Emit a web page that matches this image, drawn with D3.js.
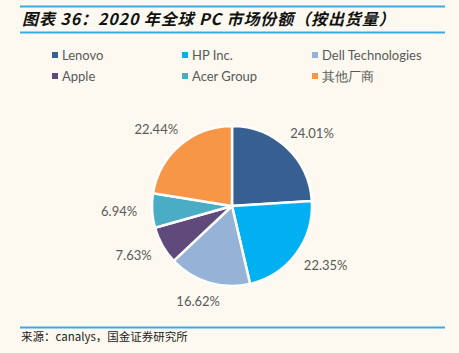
<!DOCTYPE html>
<html>
<head>
<meta charset="utf-8">
<script src="https://cdn.jsdelivr.net/npm/d3@7"></script>
<style>
  body { margin: 0; background: #fdf9f0; }
  svg { display: block; }
</style>
</head>
<body>
<svg id="chart"></svg>
<script>
// data
var vendors = ['Lenovo', 'HP Inc.', 'Dell Technologies', 'Apple', 'Acer Group', '其他厂商'];
var shares = [24.01, 22.35, 16.62, 7.63, 6.94, 22.44];
var colors = ['#375f91', '#00b0f0', '#95b3d7', '#604a7b', '#4bacc6', '#f79646'];

var width = 459, height = 353;
var cx = 232, cy = 206, radius = 80;

var svg = d3.select('#chart')
    .attr('width', width)
    .attr('height', height);

// title + rules
svg.append('line').attr('x1', 20).attr('x2', 445).attr('y1', 6.5).attr('y2', 6.5)
    .attr('stroke', '#35ace6').attr('stroke-width', 2);
svg.append('line').attr('x1', 20).attr('x2', 445).attr('y1', 32.5).attr('y2', 32.5)
    .attr('stroke', '#35ace6').attr('stroke-width', 2);
svg.append('text')
    .attr('x', 22).attr('y', 25)
    .attr('font-family', '"Noto Sans CJK SC", sans-serif')
    .attr('font-size', 16).attr('font-weight', 'bold').attr('font-style', 'italic')
    .attr('letter-spacing', 0.9)
    .attr('fill', '#111')
    .text('图表 36：2020 年全球 PC 市场份额（按出货量）');

// legend
var legend = svg.append('g').selectAll('g')
    .data(vendors)
    .enter()
    .append('g')
    .attr('transform', function (d, i) {
        return 'translate(' + (52 + (i % 3) * 130) + ',' + (55 + Math.floor(i / 3) * 21) + ')';
    });
legend.append('rect')
    .attr('x', 0).attr('y', -3).attr('width', 6).attr('height', 6)
    .attr('fill', function (d, i) { return colors[i]; });
legend.append('text')
    .attr('x', 10).attr('y', 0).attr('dy', '0.35em')
    .attr('font-family', 'Lato, sans-serif').attr('font-size', 13)
    .attr('fill', '#595959')
    .text(function (d) { return d; });

// pie
var pie = d3.pie().sort(null).value(function (d) { return d; });
var arc = d3.arc().innerRadius(0).outerRadius(radius);
var arcs = pie(shares);

var g = svg.append('g').attr('transform', 'translate(' + cx + ',' + cy + ')');
g.selectAll('path')
    .data(arcs)
    .enter()
    .append('path')
    .attr('d', arc)
    .attr('fill', function (d, i) { return colors[i]; })
    .attr('stroke', '#fff')
    .attr('stroke-width', 2.5);

// labels outside end
var pad = 15;
g.selectAll('text.lbl')
    .data(arcs)
    .enter()
    .append('text')
    .attr('class', 'lbl')
    .attr('font-family', 'Lato, sans-serif').attr('font-size', 13)
    .attr('fill', '#595959')
    .attr('text-anchor', 'middle')
    .attr('dy', '0.35em')
    .text(function (d) { return d.data.toFixed(2) + '%'; })
    .each(function (d) {
        var a = (d.startAngle + d.endAngle) / 2;
        var sx = Math.sin(a), sy = -Math.cos(a);
        var w = this.getComputedTextLength(), h = 10;
        var x = sx * (radius + pad) + sx * w / 2;
        var y = sy * (radius + pad) + sy * h / 2;
        d3.select(this).attr('x', x).attr('y', y);
    });

// footer
svg.append('line').attr('x1', 20).attr('x2', 445).attr('y1', 327.5).attr('y2', 327.5)
    .attr('stroke', '#35ace6').attr('stroke-width', 2);
svg.append('text')
    .attr('x', 21).attr('y', 341)
    .attr('font-family', '"Noto Sans CJK SC", sans-serif')
    .attr('font-size', 11.5).attr('fill', '#222')
    .text('来源：canalys，国金证券研究所');
</script>
</body>
</html>
